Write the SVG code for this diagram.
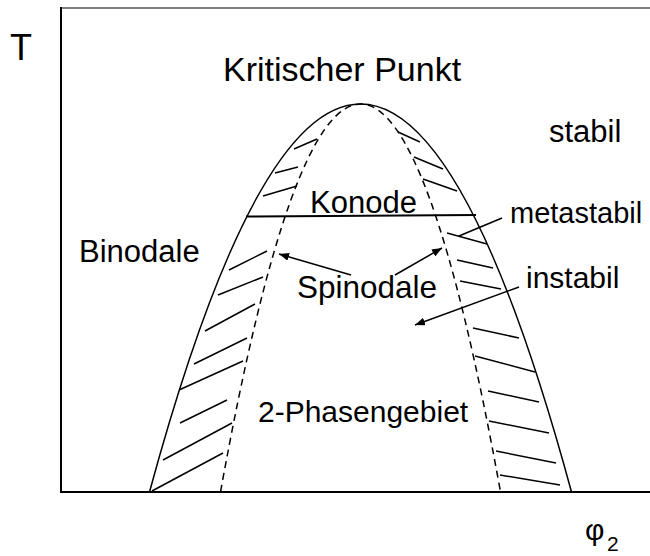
<svg xmlns="http://www.w3.org/2000/svg" width="650" height="556" viewBox="0 0 650 556">
  <style>
    text { font-family: "Liberation Sans", Arial, sans-serif; font-size: 30px; fill: #000; }
    .axis { stroke: #000; stroke-width: 2; fill: none; }
    .curve { stroke: #000; stroke-width: 1.5; fill: none; }
    .dash { stroke: #000; stroke-width: 1.5; fill: none; stroke-dasharray: 7 5; }
    .hatch line { stroke: #000; stroke-width: 1.5; }
    .lead { stroke: #000; stroke-width: 1.5; fill: none; }
  </style>
  <defs>
    <marker id="arrow" viewBox="0 0 10 8" refX="10" refY="4" markerWidth="10" markerHeight="8" markerUnits="userSpaceOnUse" orient="auto">
      <path d="M0,0 L10,4 L0,8 Z" fill="#000"/>
    </marker>
  </defs>

  <rect width="650" height="556" fill="#fff"/>

  <!-- frame and axes -->
  <g id="axes">
    <line x1="61" y1="8" x2="650" y2="8" stroke="#808080" stroke-width="2"/>
    <line class="axis" x1="61" y1="7" x2="61" y2="493"/>
    <line class="axis" x1="60" y1="492" x2="650" y2="492"/>
    <text x="10" y="60" style="font-size:36px">T</text>
    <text x="585" y="540">φ<tspan x="607" y="551" style="font-size:21px">2</tspan></text>
  </g>

  <!-- binodal (solid) and spinodal (dashed) -->
  <g id="binodale-curve">
    <path class="curve" d="M149.5,492 Q360.5,-284 571.5,492"/>
  </g>
  <g id="spinodale-curve">
    <path class="dash" d="M220.5,492 Q360.5,-284 500.5,492"/>
  </g>

  <!-- metastable hatching between the curves -->
  <g id="hatch-left" class="hatch">
    <line x1="294" y1="149" x2="317" y2="139"/>
    <line x1="275" y1="173" x2="298" y2="167"/>
    <line x1="263" y1="196" x2="297" y2="186"/>
    <line x1="229" y1="270" x2="267" y2="251"/>
    <line x1="218" y1="295" x2="263" y2="277"/>
    <line x1="205" y1="331" x2="255" y2="304"/>
    <line x1="194" y1="364" x2="247" y2="338"/>
    <line x1="179" y1="390" x2="243" y2="361"/>
    <line x1="180" y1="423" x2="227" y2="400"/>
    <line x1="163" y1="460" x2="232" y2="423"/>
    <line x1="152" y1="491" x2="223" y2="453"/>
  </g>
  <g id="hatch-right" class="hatch">
    <line x1="398" y1="132" x2="420" y2="142"/>
    <line x1="414" y1="157" x2="443" y2="169"/>
    <line x1="423" y1="179" x2="457" y2="191"/>
    <line x1="447" y1="233" x2="487" y2="244"/>
    <line x1="457" y1="260" x2="493" y2="268"/>
    <line x1="460" y1="281" x2="501" y2="289"/>
    <line x1="473" y1="328" x2="519" y2="338"/>
    <line x1="475" y1="356" x2="535" y2="372"/>
    <line x1="488" y1="391" x2="539" y2="402"/>
    <line x1="489" y1="421" x2="549" y2="433"/>
    <line x1="496" y1="451" x2="556" y2="463"/>
    <line x1="500" y1="475" x2="560" y2="485"/>
  </g>

  <!-- tie line -->
  <g id="konode">
    <line x1="246" y1="216.5" x2="476" y2="215" stroke="#000" stroke-width="2"/>
    <text x="310" y="213" style="font-size:31px">Konode</text>
  </g>

  <!-- leader lines -->
  <g id="connectors">
    <line class="lead" x1="351" y1="275" x2="279" y2="254" marker-end="url(#arrow)"/>
    <line class="lead" x1="395" y1="275" x2="442" y2="248" marker-end="url(#arrow)"/>
    <line class="lead" x1="519" y1="287" x2="415" y2="325" marker-end="url(#arrow)"/>
    <line class="lead" x1="502" y1="218" x2="459" y2="236"/>
  </g>

  <g id="kritischer-punkt"><text x="223" y="81" style="font-size:34px">Kritischer Punkt</text></g>
  <g id="stabil"><text x="549" y="142" style="font-size:31px">stabil</text></g>
  <g id="metastabil"><text x="510" y="223" style="font-size:29px">metastabil</text></g>
  <g id="binodale"><text x="79" y="262" style="font-size:31px">Binodale</text></g>
  <g id="spinodale"><text x="297" y="298" style="font-size:31.5px">Spinodale</text></g>
  <g id="instabil"><text x="526" y="288">instabil</text></g>
  <g id="zwei-phasengebiet"><text x="258" y="422">2-Phasengebiet</text></g>
</svg>
